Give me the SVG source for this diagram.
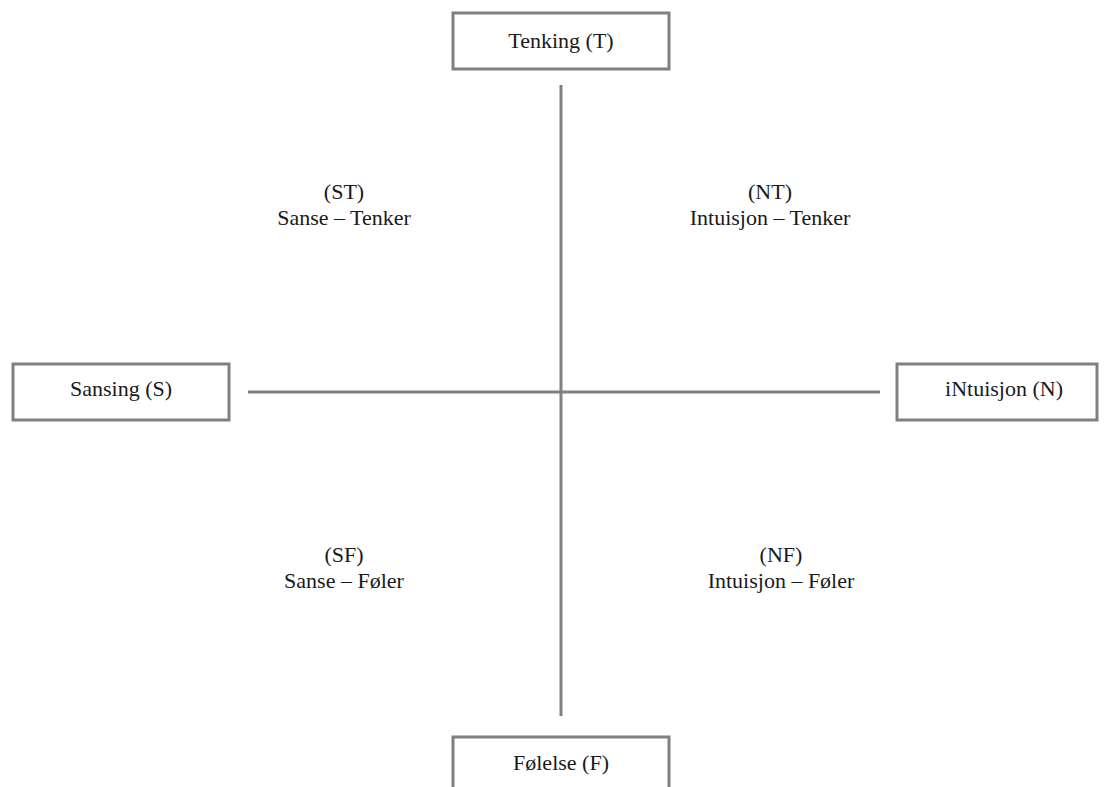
<svg xmlns="http://www.w3.org/2000/svg" width="1105" height="787" viewBox="0 0 1105 787">
<style>
.box{fill:#fff;stroke:#808080;stroke-width:3}
.ln{stroke:#808080;stroke-width:3;fill:none}
text{font-family:"Liberation Serif","Times New Roman",serif;font-size:22px;fill:#1a1a1a;text-anchor:middle}
</style>
<rect width="1105" height="787" fill="#fff"/>
<g id="connectors">
<line class="ln" x1="561" y1="85" x2="561" y2="716"/>
<line class="ln" x1="248" y1="392" x2="880" y2="392"/>
</g>
<g id="node-T">
<rect class="box" x="453" y="13" width="216" height="56"/>
<text x="561" y="48">Tenking (T)</text>
</g>
<g id="node-S">
<rect class="box" x="13" y="364" width="216" height="56"/>
<text x="121" y="396">Sansing (S)</text>
</g>
<g id="node-N">
<rect class="box" x="897" y="364" width="200" height="56"/>
<text x="1004" y="396">iNtuisjon (N)</text>
</g>
<g id="node-F">
<rect class="box" x="453" y="737" width="216" height="70"/>
<text x="561" y="770">Følelse (F)</text>
</g>
<g id="quadrant-ST">
<text x="344" y="199">(ST)</text>
<text x="344" y="225">Sanse – Tenker</text>
</g>
<g id="quadrant-NT">
<text x="770" y="199">(NT)</text>
<text x="770" y="225">Intuisjon – Tenker</text>
</g>
<g id="quadrant-SF">
<text x="344" y="562">(SF)</text>
<text x="344" y="588">Sanse – Føler</text>
</g>
<g id="quadrant-NF">
<text x="781" y="562">(NF)</text>
<text x="781" y="588">Intuisjon – Føler</text>
</g>
</svg>
